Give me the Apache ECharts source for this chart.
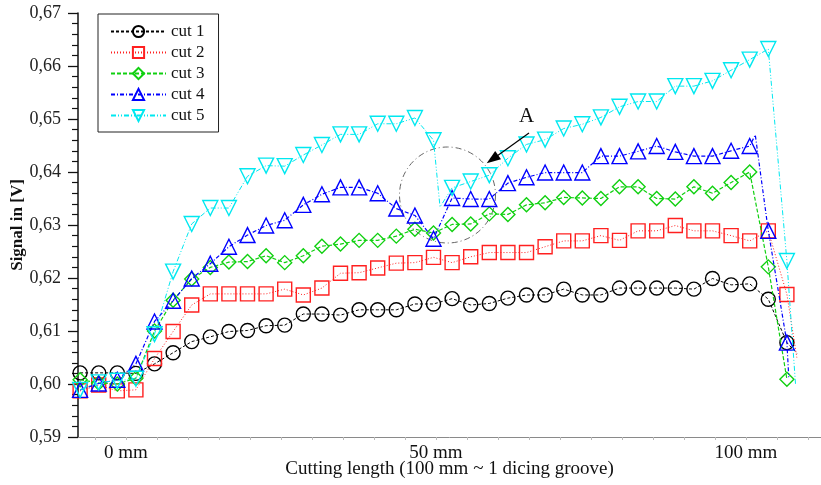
<!DOCTYPE html>
<html>
<head>
<meta charset="utf-8">
<script src="https://cdn.jsdelivr.net/npm/echarts@6/dist/echarts.min.js"></script>
<style>
  html, body { margin: 0; padding: 0; background: #fff; }
  #chart { width: 821px; height: 485px; }
</style>
</head>
<body>
<div id="chart"></div>
<script>
// marker positions along the cut [mm]
const xMm = [-7.4, -4.4, -1.4, 1.6, 4.6, 7.6, 10.6, 13.6, 16.6, 19.6,
  22.6, 25.6, 28.6, 31.6, 34.6, 37.6, 40.6, 43.6, 46.6, 49.6,
  52.6, 55.6, 58.6, 61.6, 64.6, 67.6, 70.6, 73.6, 76.6, 79.6,
  82.6, 85.6, 88.6, 91.6, 94.6, 97.6, 100.6, 103.6, 106.6]

// signal at each marker [V]
const cut1 = [0.6021, 0.6021, 0.6021, 0.6020, 0.6038, 0.6059, 0.6080, 0.6089, 0.6099, 0.6101,
  0.6110, 0.6111, 0.6132, 0.6132, 0.6130, 0.6140, 0.6140, 0.6140, 0.6151, 0.6151,
  0.6161, 0.6149, 0.6152, 0.6162, 0.6168, 0.6168, 0.6179, 0.6168, 0.6168, 0.6181,
  0.6181, 0.6181, 0.6181, 0.6179, 0.6199, 0.6187, 0.6189, 0.6160, 0.6078]
const cut2 = [0.5987, 0.5998, 0.5987, 0.5989, 0.6048, 0.6099, 0.6149, 0.6170, 0.6170, 0.6170,
  0.6170, 0.6179, 0.6168, 0.6181, 0.6209, 0.6210, 0.6219, 0.6228, 0.6229, 0.6239,
  0.6229, 0.6240, 0.6248, 0.6248, 0.6248, 0.6259, 0.6270, 0.6270, 0.6280, 0.6271,
  0.6289, 0.6289, 0.6299, 0.6289, 0.6289, 0.6280, 0.6270, 0.6289, 0.6169]
const cut3 = [0.6008, 0.6002, 0.6000, 0.6011, 0.6100, 0.6158, 0.6198, 0.6220, 0.6230, 0.6231,
  0.6242, 0.6229, 0.6242, 0.6260, 0.6264, 0.6271, 0.6271, 0.6279, 0.6292, 0.6285,
  0.6301, 0.6302, 0.6321, 0.6320, 0.6338, 0.6342, 0.6352, 0.6351, 0.6350, 0.6372,
  0.6372, 0.6350, 0.6349, 0.6372, 0.6360, 0.6380, 0.6400, 0.6221, 0.6009]
const cut4 = [0.5989, 0.6001, 0.6008, 0.6038, 0.6118, 0.6157, 0.6199, 0.6227, 0.6259, 0.6281,
  0.6299, 0.6309, 0.6338, 0.6358, 0.6371, 0.6371, 0.6360, 0.6331, 0.6318, 0.6274,
  0.6351, 0.6349, 0.6349, 0.6379, 0.6390, 0.6399, 0.6399, 0.6399, 0.6430, 0.6430,
  0.6439, 0.6449, 0.6438, 0.6430, 0.6430, 0.6440, 0.6449, 0.6289, 0.6078]
const cut5 = [0.5989, 0.6003, 0.6006, 0.6010, 0.6094, 0.6212, 0.6302, 0.6332, 0.6332, 0.6392,
  0.6412, 0.6411, 0.6432, 0.6451, 0.6471, 0.6471, 0.6491, 0.6491, 0.6502, 0.6460,
  0.6370, 0.6382, 0.6394, 0.6426, 0.6452, 0.6461, 0.6482, 0.6490, 0.6503, 0.6523,
  0.6533, 0.6533, 0.6562, 0.6562, 0.6572, 0.6592, 0.6612, 0.6632, 0.6232]

// trace points without a marker (dip, overshoot, run-out) [mm, V]
const cut1Extra = [[108.2, 0.6058]]
const cut2Extra = [[108.2, 0.6050]]
const cut3Extra = []
const cut4Extra = [[101.5, 0.6470], [106.9, 0.6013]]
const cut5Extra = [[50.65, 0.6334], [108.0, 0.5998]]

const names = ['cut 1', 'cut 2', 'cut 3', 'cut 4', 'cut 5']
const xLabelValues = [0, 50, 100]
const xTickValues = [-5, 0, 5, 10, 15, 20, 25, 30, 35, 40, 45, 50, 55, 60, 65, 70, 75, 80, 85, 90, 95, 100, 105, 110]

const serif = 'Liberation Serif, Times New Roman, serif'

// marker points plus unmarked trace points, kept in x order
const buildData = (vals, extra) => {
  const pts = xMm.map((x, i) => [x, vals[i]])
  extra.forEach(p => pts.push({ value: p, symbol: 'none' }))
  const xOf = p => (Array.isArray(p) ? p[0] : p.value[0])
  return pts.sort((a, b) => xOf(a) - xOf(b))
}

const styles = [
  { color: '#000000', symbol: 'circle', size: 14, rotate: 0, dash: [3, 2], width: 1 },
  { color: '#ff2020', symbol: 'rect', size: 14, rotate: 0, dash: [1, 2], width: 1 },
  { color: '#10d010', symbol: 'diamond', size: 14, rotate: 0, dash: [4, 2], width: 1.2 },
  { color: '#0000ff', symbol: 'triangle', size: 15, rotate: 0, dash: [4, 2, 1, 2], width: 1.2 },
  { color: '#00e8f0', symbol: 'triangle', size: 15, rotate: 180, dash: [5, 2, 1, 2, 1, 2], width: 1 }
]

const allData = [
  buildData(cut1, cut1Extra),
  buildData(cut2, cut2Extra),
  buildData(cut3, cut3Extra),
  buildData(cut4, cut4Extra),
  buildData(cut5, cut5Extra)
]

const series = names.map((name, k) => ({
  name: name,
  type: 'line',
  data: allData[k],
  symbol: styles[k].symbol,
  symbolSize: styles[k].size,
  symbolRotate: styles[k].rotate,
  itemStyle: {
    color: 'rgba(255,255,255,0)',
    borderColor: styles[k].color,
    borderWidth: 1.4
  },
  lineStyle: {
    color: styles[k].color,
    width: styles[k].width,
    type: styles[k].dash
  },
  z: 2 + k,
  animation: false
}))

const chart = echarts.init(document.getElementById('chart'))
chart.setOption({
  backgroundColor: '#fff',
  animation: false,
  grid: { left: 78, right: 0, top: 13, bottom: 48, outerBoundsMode: 'none' },
  legend: {
    data: names,
    orient: 'vertical',
    left: 98,
    top: 14,
    padding: [9, 14, 8, 12],
    itemWidth: 55,
    itemHeight: 14,
    itemGap: 4,
    borderColor: '#222',
    borderWidth: 1,
    textStyle: { fontFamily: serif, fontSize: 17, color: '#111' }
  },
  xAxis: {
    type: 'value',
    min: -7.74,
    max: 112.1,
    name: 'Cutting length (100 mm ~ 1 dicing groove)',
    nameLocation: 'middle',
    nameGap: 23,
    nameMoveOverlap: false,
    nameTextStyle: { fontFamily: serif, fontSize: 19, color: '#111' },
    axisLine: { onZero: false, lineStyle: { color: '#8a8a8a', width: 1 } },
    axisTick: {
      show: true,
      customValues: xTickValues,
      length: 3,
      lineStyle: { color: '#bbb' }
    },
    axisLabel: {
      customValues: xLabelValues,
      formatter: v => v + ' mm',
      margin: 7,
      fontFamily: serif,
      fontSize: 19,
      color: '#111'
    },
    splitLine: { show: false }
  },
  yAxis: {
    type: 'value',
    min: 0.59,
    max: 0.67,
    interval: 0.01,
    name: 'Signal in [V]',
    nameLocation: 'middle',
    nameGap: 52,
    nameMoveOverlap: false,
    nameTextStyle: { fontFamily: serif, fontSize: 17, fontWeight: 'bold', color: '#111' },
    axisLine: { show: true, onZero: false, lineStyle: { color: '#111', width: 1.5 } },
    axisTick: { show: true, length: 10, lineStyle: { color: '#111', width: 1.3 } },
    minorTick: { show: true, splitNumber: 5, length: 6, lineStyle: { color: '#111', width: 1.2 } },
    axisLabel: {
      formatter: v => v.toFixed(2).replace('.', ','),
      margin: 17,
      fontFamily: serif,
      fontSize: 18,
      color: '#222'
    },
    splitLine: { show: false }
  },
  graphic: [
    {
      type: 'circle',
      shape: { cx: 447.5, cy: 195, r: 48 },
      style: { fill: 'none', stroke: '#666', lineWidth: 1, lineDash: [6, 3, 1, 3] },
      z: 1
    },
    {
      type: 'line',
      shape: { x1: 529, y1: 133, x2: 497, y2: 156 },
      style: { stroke: '#000', lineWidth: 1.2 },
      z: 20
    },
    {
      type: 'polygon',
      shape: { points: [[486.7, 163.3], [501.0, 159.2], [495.2, 151.0]] },
      style: { fill: '#000' },
      z: 20
    },
    {
      type: 'text',
      left: 519,
      top: 106,
      style: { text: 'A', font: '21px "Liberation Serif", serif', fill: '#111' },
      z: 20
    }
  ],
  series: series
})
</script>
</body>
</html>
